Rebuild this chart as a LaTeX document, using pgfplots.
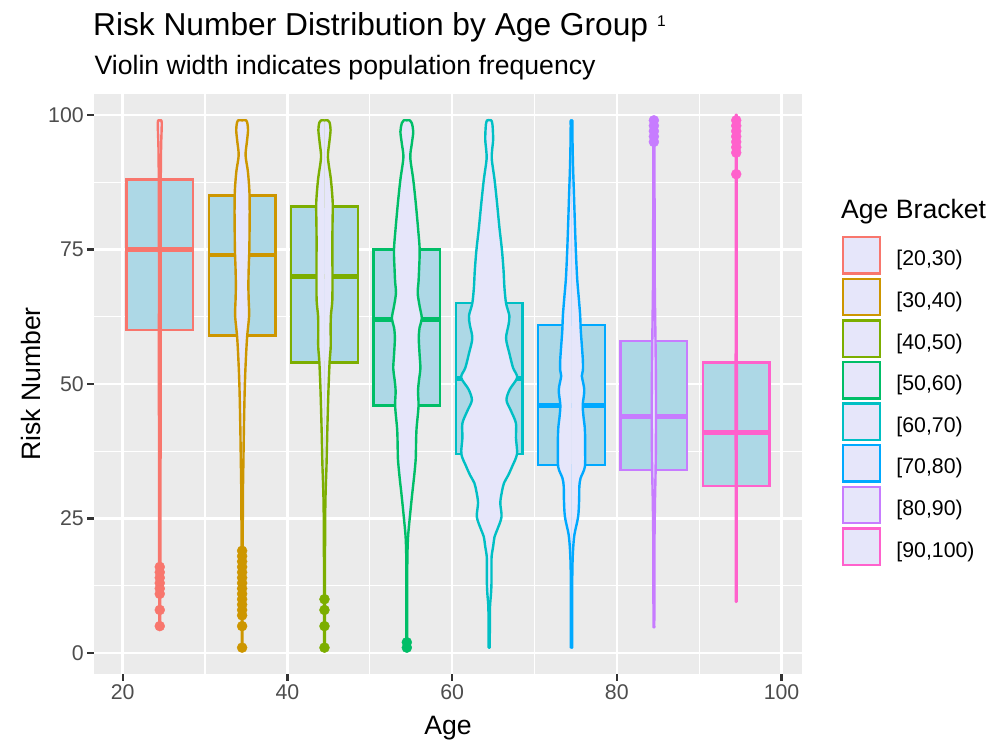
\documentclass[border=0pt]{standalone}
\usepackage{fontspec}
\setmainfont{Liberation Sans}
\usepackage{pgfplots}
\pgfplotsset{compat=1.18}
\usepackage{pgfplotstable}
\usepgfplotslibrary{statistics}

\definecolor{c1}{HTML}{F8766D}
\definecolor{c2}{HTML}{CD9600}
\definecolor{c3}{HTML}{7CAE00}
\definecolor{c4}{HTML}{00BE67}
\definecolor{c5}{HTML}{00BFC4}
\definecolor{c6}{HTML}{00A9FF}
\definecolor{c7}{HTML}{C77CFF}
\definecolor{c8}{HTML}{FF61CC}
\definecolor{boxblue}{HTML}{ADD8E6}
\definecolor{lav}{HTML}{E6E6FA}
\definecolor{panel}{HTML}{EBEBEB}
\definecolor{gray20}{HTML}{333333}
\definecolor{gray30}{HTML}{4D4D4D}

% violin half-width profiles: y, half width (x units)
\pgfplotstableread{
y w
5 -0.01
5 0.05
6 0.05
10 0.06
17 0.08
30 0.09
45 0.1
60 0.1
75 0.1
88 0.12
94 0.16
97 0.22
98.5 0.24
99 0.2
99 -0.01
}\vA
\pgfplotstableread{
y w
1 -0.01
1 0.05
2 0.05
8 0.05
16 0.06
24 0.08
30 0.1
36 0.16
42 0.22
48 0.3
52 0.38
56 0.5
59 0.62
62.7 0.85
65.5 0.8
68.3 0.76
71.5 0.8
74.6 0.87
78 0.9
82.3 0.92
86 0.88
89.5 0.7
92.5 0.42
95 0.58
97.2 0.72
98.6 0.62
99 0.5
99 -0.01
}\vB
\pgfplotstableread{
y w
1 -0.01
1 0.05
2 0.05
11 0.05
20 0.07
27 0.1
31 0.16
35 0.25
41.7 0.35
48.7 0.48
54 0.62
57 0.76
60 0.75
62.7 0.78
65.5 0.95
70 0.97
76.7 0.96
80 0.98
83.7 1.0
88 0.78
92.1 0.42
94.8 0.58
97.2 0.74
98.6 0.62
99 0.42
99 -0.01
}\vC
\pgfplotstableread{
y w
1 -0.01
1 0.05
2 0.05
10 0.05
17 0.06
21.4 0.14
25 0.35
29.1 0.62
33 0.9
36.1 1.08
39 1.12
41.7 1.18
45.9 1.42
48.7 1.36
51 1.5
52.9 1.65
55.5 1.55
58.5 1.45
60.5 1.55
62.2 1.82
64.5 1.55
66.9 1.32
69 1.42
71 1.48
74.9 1.56
79 1.36
83.7 1.08
88 0.78
92.1 0.42
94.6 0.6
96.9 0.78
98.5 0.6
99 0.38
99 -0.01
}\vD
\pgfplotstableread{
y w
1 -0.01
1 0.07
2 0.07
5 0.08
8.6 0.1
11 0.22
13 0.28
16 0.28
18 0.3
20 0.5
21.6 0.65
23 1.0
25.3 1.5
27.9 1.35
30 1.55
31.6 1.8
33 2.3
34.7 2.8
37 3.38
40 3.25
42.7 3.25
45 2.65
47 2.1
49 2.5
51.2 3.4
53 2.9
55.7 2.45
58.5 2.05
61 2.35
62.7 2.45
65 2.05
68 1.85
71 1.75
74.9 1.55
79 1.25
83.7 0.95
88 0.65
91.7 0.32
93.5 0.36
95.5 0.48
98.2 0.4
99 0.25
99 -0.01
}\vE
\pgfplotstableread{
y w
1 -0.01
1 0.08
2 0.08
9.3 0.08
15.4 0.1
19 0.18
22 0.35
25.3 0.8
28.4 0.92
31 0.95
32.5 1.1
34.6 1.62
38 1.65
40.2 1.65
42 1.6
44 1.45
46.1 1.36
48.9 1.55
51.5 1.25
52.6 1.38
54.3 1.38
57 1.26
60 1.12
62.7 1.05
66 0.88
69.7 0.68
75 0.52
80.2 0.4
85 0.3
90.6 0.18
95 0.12
98 0.1
99 0.1
99 -0.01
}\vF
\pgfplotstableread{
y w
5 -0.01
5 0.05
6 0.05
20 0.07
28 0.13
35 0.22
45 0.26
55 0.22
62 0.16
70 0.1
85 0.08
98 0.08
99 0.08
99 -0.01
}\vG
\pgfplotstableread{
y w
10 -0.01
10 0.04
11 0.04
30 0.06
50 0.07
70 0.05
98 0.04
99 0.04
99 -0.01
}\vH

\newcommand{\violin}[3]{%
  \addplot[draw=none, fill=lav, smooth, tension=0.5, forget plot]
    table[x expr=#1+\thisrow{w}, y=y]{#2} -- cycle;
  \addplot[draw=none, fill=lav, smooth, tension=0.5, forget plot]
    table[x expr=#1-\thisrow{w}, y=y]{#2} -- cycle;
  \addplot[draw=#3, line width=2.4pt, smooth, tension=0.5, line join=round, forget plot]
    table[x expr=#1+\thisrow{w}, y=y]{#2};
  \addplot[draw=#3, line width=2.4pt, smooth, tension=0.5, line join=round, forget plot]
    table[x expr=#1-\thisrow{w}, y=y]{#2};
}
\newcommand{\bx}[7]{% pos, lw, lq, med, uq, uw, color
  \addplot[boxplot prepared={draw position=#1, lower whisker=#2,
      lower quartile=#3, median=#4, upper quartile=#5, upper whisker=#6,
      box extend=8.1, whisker extend=0, draw direction=y},
    draw=#7, fill=boxblue, line width=2.4pt, solid, forget plot] coordinates {};
}

\begin{document}
\begin{tikzpicture}
\useasboundingbox (0pt,0pt) rectangle (990pt,741pt);
\begin{axis}[
  at={(94.3pt,67pt)}, anchor=south west,
  scale only axis, width=707.4pt, height=580pt,
  xmin=16.55, xmax=102.45, ymin=-3.9, ymax=103.9,
  axis background/.style={fill=panel},
  axis line style={draw=none},
  xtick={20,40,60,80,100}, ytick={0,25,50,75,100},
  minor xtick={30,50,70,90}, minor ytick={12.5,37.5,62.5,87.5},
  grid=both,
  major grid style={white, line width=2.6pt},
  minor grid style={white, line width=1.3pt},
  tick align=outside, tick pos=left,
  major tick length=7pt, minor tick length=0pt,
  tick style={color=gray20, line width=2.4pt},
  /pgf/number format/assume math mode=true,
  ticklabel style={font=\fontsize{21.3}{25}\selectfont, text=gray30},
  xlabel={Age}, ylabel={Risk Number},
  label style={font=\fontsize{26.6}{30}\selectfont},
  xlabel style={at={(axis description cs:0.5,0)}, anchor=base, yshift=-60pt},
  ylabel style={at={(axis description cs:0,0.5)}, anchor=base, yshift=54pt},
  boxplot/draw direction=y,
  boxplot/every median/.style={line width=4.6pt},
  legend image code/.code={\draw[#1, line width=2.4pt, fill=lav] (0pt,-14.75pt) rectangle (36.5pt,21.75pt);},
  legend style={at={(axis description cs:1.057,0.7552)}, anchor=north west,
    draw=none, fill=none, inner sep=0pt, outer sep=0pt, row sep=2.7pt,
    font=\fontsize{21.3}{25}\selectfont, nodes={inner sep=0pt},
    /tikz/every odd column/.append style={column sep=15.5pt}},
  legend cell align=left,
]
% boxes
\bx{24.5}{18}{60}{75}{88}{99}{c1}
\bx{34.5}{20}{59}{74}{85}{99}{c2}
\bx{44.5}{11}{54}{70}{83}{99}{c3}
\bx{54.5}{3}{46}{62}{75}{99}{c4}
\bx{64.5}{1}{37}{51}{65}{99}{c5}
\bx{74.5}{1}{35}{46}{61}{99}{c6}
\bx{84.5}{5}{34}{44}{58}{94}{c7}
\bx{94.5}{10}{31}{41}{54}{88}{c8}
% outliers
\addplot[only marks, mark=*, mark size=5pt, color=c1, forget plot] coordinates {
 (24.5,16) (24.5,15) (24.5,14) (24.5,13) (24.5,12) (24.5,11) (24.5,8) (24.5,5)};
\addplot[only marks, mark=*, mark size=5pt, color=c2, forget plot] coordinates {
 (34.5,19) (34.5,18) (34.5,17) (34.5,16) (34.5,15) (34.5,14) (34.5,13) (34.5,12)
 (34.5,11) (34.5,10) (34.5,9) (34.5,8) (34.5,7) (34.5,5) (34.5,1)};
\addplot[only marks, mark=*, mark size=5pt, color=c3, forget plot] coordinates {
 (44.5,10) (44.5,8) (44.5,5) (44.5,1)};
\addplot[only marks, mark=*, mark size=5pt, color=c4, forget plot] coordinates {
 (54.5,2) (54.5,1)};
\addplot[only marks, mark=*, mark size=5pt, color=c7, forget plot] coordinates {
 (84.5,95) (84.5,96) (84.5,97) (84.5,98) (84.5,99)};
\addplot[only marks, mark=*, mark size=5pt, color=c8, forget plot] coordinates {
 (94.5,89) (94.5,93) (94.5,94) (94.5,95) (94.5,96) (94.5,97) (94.5,98) (94.5,99)};
% violins
\violin{24.5}{\vA}{c1}
\violin{34.5}{\vB}{c2}
\violin{44.5}{\vC}{c3}
\violin{54.5}{\vD}{c4}
\violin{64.5}{\vE}{c5}
\violin{74.5}{\vF}{c6}
\violin{84.5}{\vG}{c7}
\violin{94.5}{\vH}{c8}
% legend
\addlegendimage{draw=c1}\addlegendentry{[20,30)}
\addlegendimage{draw=c2}\addlegendentry{[30,40)}
\addlegendimage{draw=c3}\addlegendentry{[40,50)}
\addlegendimage{draw=c4}\addlegendentry{[50,60)}
\addlegendimage{draw=c5}\addlegendentry{[60,70)}
\addlegendimage{draw=c6}\addlegendentry{[70,80)}
\addlegendimage{draw=c7}\addlegendentry{[80,90)}
\addlegendimage{draw=c8}\addlegendentry{[90,100)}
\end{axis}
\node[anchor=base west, inner sep=0pt, font=\fontsize{31.7}{36}\selectfont] at (93pt,705pt) {Risk Number Distribution by Age Group};
\node[anchor=base west, inner sep=0pt, font=\fontsize{15.5}{17}\selectfont] at (657pt,714pt) {1};
\node[anchor=base west, inner sep=0pt, font=\fontsize{26.6}{30}\selectfont] at (94.5pt,666pt) {Violin width indicates population frequency};
\node[anchor=base west, inner sep=0pt, font=\fontsize{26.6}{30}\selectfont] at (841pt,522pt) {Age Bracket};
\end{tikzpicture}
\end{document}
